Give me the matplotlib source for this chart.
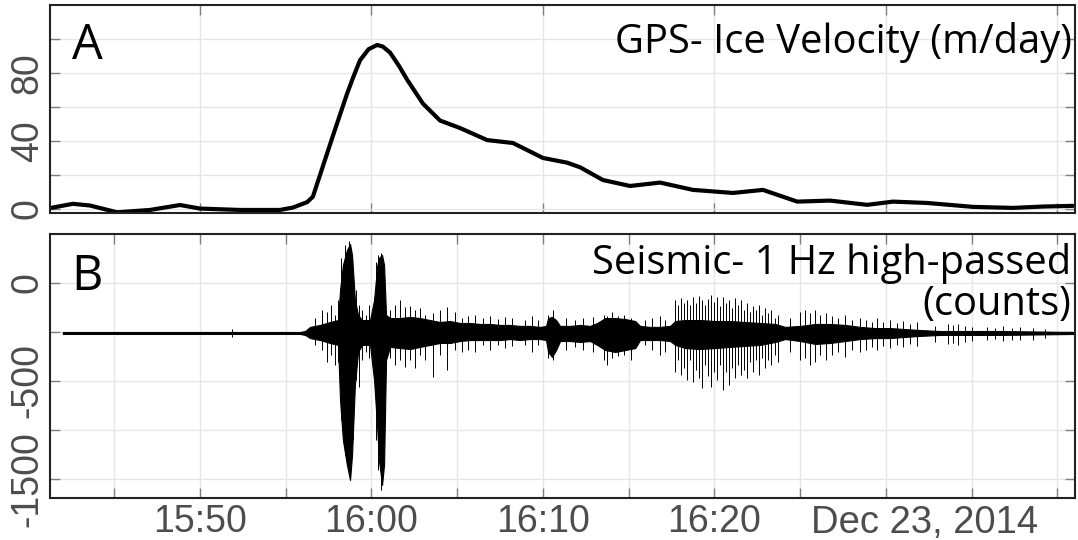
import numpy as np
import matplotlib
matplotlib.use("Agg")
import matplotlib.pyplot as plt

DAY = "2014-12-23"

# GPS ice velocity (m/day)
vel_time = ["15:41:15", "15:42:35", "15:43:35", "15:45:10", "15:47:05", "15:48:50",
            "15:50:00", "15:52:20", "15:54:40", "15:55:25", "15:56:15", "15:56:35",
            "15:57:00", "15:57:45", "15:58:35", "15:58:55", "15:59:20", "15:59:50",
            "16:00:20", "16:00:40", "16:01:05", "16:01:35", "16:02:05", "16:03:00",
            "16:04:00", "16:05:10", "16:06:45", "16:08:15", "16:10:00", "16:11:25",
            "16:12:10", "16:13:30", "16:15:05", "16:16:50", "16:18:45", "16:21:05",
            "16:22:50", "16:24:50", "16:26:45", "16:28:55", "16:30:25", "16:32:25",
            "16:35:05", "16:37:25", "16:39:10", "16:40:55"]
vel_value = [0.5, 3, 2, -2, -0.6, 2.3,
             0.2, -0.6, -0.6, 0.8, 4, 7.2,
             20, 43, 68, 77, 87.5, 94,
             96.5, 95.5, 92, 84.5, 76, 62,
             52, 47.6, 40.5, 38.8, 30, 27.2,
             24.5, 17, 13.5, 15.5, 11.2, 9.4,
             11.2, 4.3, 4.9, 2.4, 4.3, 3.5,
             1.2, 0.6, 1.4, 1.8]

# Seismic trace (1 Hz high-passed, counts); times in seconds after 15:40:00
seis_ref = "15:40:00"
band_sec = [120, 950, 968, 985, 1020, 1055, 1083, 1090, 1100, 1114, 1125, 1132, 1142,
            1153, 1167, 1195, 1209, 1220, 1226, 1237, 1244, 1251, 1265, 1300, 1335,
            1370, 1405, 1440, 1475, 1510, 1545, 1580, 1615, 1650, 1685, 1720, 1755,
            1790, 1811, 1818, 1832, 1846, 1860, 1895, 1930, 1965, 1990, 2018, 2053,
            2088, 2123, 2140, 2175, 2210, 2245, 2263, 2298, 2350, 2403, 2455, 2508,
            2560, 2613, 2648, 2700, 2753, 2805, 2858, 2910, 2963, 3015, 3068, 3120,
            3190, 3260, 3400, 3663]
band_hi = [-250, -250, -245, -224, -214, -199, -189, -36, 92, 168, 199, 143, -87,
           -163, -189, -189, -87, 87, 128, 143, 92, -163, -179, -179, -173,
           -179, -189, -199, -194, -204, -204, -209, -209, -214, -214, -219, -219,
           -224, -219, -179, -173, -189, -219, -219, -214, -219, -204, -179, -179,
           -184, -194, -219, -224, -224, -219, -194, -189, -189, -194, -194, -199,
           -204, -209, -224, -219, -209, -209, -214, -224, -230, -230, -235, -240,
           -245, -245, -245, -250]
band_lo = [-260, -260, -265, -281, -291, -306, -316, -597, -801, -928, -1005, -877, -520,
           -352, -316, -316, -495, -740, -903, -1030, -928, -393, -326, -332, -337,
           -326, -316, -306, -306, -296, -291, -291, -291, -291, -286, -291, -286,
           -286, -291, -352, -377, -342, -296, -296, -301, -296, -316, -342, -352,
           -342, -332, -291, -291, -291, -296, -316, -332, -337, -332, -326, -321,
           -316, -301, -286, -296, -311, -306, -296, -286, -281, -281, -275, -270,
           -265, -265, -265, -260]

spike_sec = [712, 1003, 1027, 1045, 1059, 1073, 1083, 1094, 1108, 1122, 1129, 1136, 1146,
             1157, 1167, 1181, 1192, 1216, 1223, 1234, 1241, 1265, 1283, 1300, 1318,
             1335, 1353, 1370, 1388, 1416, 1440, 1465, 1493, 1517, 1538, 1563, 1591,
             1615, 1643, 1668, 1692, 1738, 1762, 1783, 1818, 1836, 1881, 1913, 1941,
             1976, 2014, 2025, 2042, 2063, 2084, 2109, 2158, 2182, 2210, 2228, 2263,
             2273, 2284, 2294, 2305, 2315, 2326, 2336, 2347, 2357, 2368, 2378, 2389,
             2399, 2410, 2420, 2431, 2441, 2452, 2462, 2473, 2483, 2494, 2504, 2515,
             2525, 2536, 2546, 2557, 2567, 2578, 2588, 2599, 2613, 2623, 2665, 2700,
             2718, 2735, 2753, 2770, 2791, 2812, 2833, 2858, 2882, 2910, 2931, 2952,
             2970, 2991, 3015, 3040, 3061, 3085, 3110, 3173, 3218, 3236, 3253, 3278,
             3302, 3355, 3383, 3411, 3442, 3470, 3516, 3558]
spike_hi = [-235, -179, -138, -148, -112, -163, -87, 128, 194, 214, 168, 41, -36,
            -112, -138, -163, -112, 107, 143, 153, 117, -138, -112, -87, -122,
            -117, -138, -128, -163, -153, -138, -122, -148, -179, -168, -163, -179,
            -168, -184, -173, -179, -189, -168, -189, -163, -138, -179, -189, -179,
            -173, -163, -168, -148, -168, -163, -179, -189, -179, -168, -189, -87,
            -112, -77, -102, -87, -112, -71, -102, -66, -87, -112, -82, -61,
            -97, -71, -117, -71, -102, -87, -128, -77, -112, -87, -138, -102,
            -148, -117, -138, -112, -163, -128, -153, -138, -179, -163, -179, -148,
            -138, -153, -138, -163, -153, -168, -179, -163, -189, -179, -189, -199,
            -179, -199, -189, -204, -194, -209, -199, -219, -209, -214, -209, -219,
            -224, -224, -230, -219, -230, -224, -230, -235]
spike_lo = [-275, -316, -342, -403, -367, -418, -403, -699, -877, -979, -903, -801, -495,
            -530, -393, -352, -383, -801, -954, -1056, -954, -383, -418, -393, -428,
            -393, -434, -367, -393, -479, -367, -444, -342, -352, -342, -352, -316,
            -342, -316, -332, -321, -316, -352, -316, -383, -393, -342, -326, -342,
            -352, -393, -418, -383, -372, -367, -393, -316, -342, -367, -352, -454,
            -393, -469, -434, -495, -393, -505, -444, -485, -536, -418, -474, -530,
            -454, -495, -418, -546, -454, -520, -434, -485, -418, -469, -444, -485,
            -403, -454, -393, -469, -383, -434, -393, -418, -367, -403, -352, -393,
            -383, -418, -403, -367, -393, -367, -352, -377, -342, -352, -342, -326,
            -342, -321, -332, -316, -326, -311, -321, -301, -311, -306, -316, -301,
            -296, -291, -286, -296, -291, -291, -291, -281]

# axis ticks and labels
vel_ticks = [0, 20, 40, 60, 80, 100]
vel_ticklabels = ["0", "", "40", "", "80", ""]
seis_ticks = [0, -250, -500, -750, -1000]
seis_ticklabels = ["0", "", "-500", "", "-1500"]
time_ticks = ["15:45", "15:50", "15:55", "16:00", "16:05", "16:10", "16:15", "16:20",
              "16:25", "16:30", "16:35", "16:40"]
time_ticklabels = ["", "15:50", "", "16:00", "", "16:10", "", "16:20", "", "", "", ""]
major_time_ticks = ["15:50", "16:00", "16:10", "16:20", "16:30", "16:40"]
date_label = "Dec 23, 2014"


def at(hms):
    if hms.count(":") == 1:
        hms = hms + ":00"
    return np.datetime64(DAY + "T" + hms)


def after_ref(secs):
    return at(seis_ref) + np.array(secs, dtype="timedelta64[s]")


vel_t = np.array([at(s) for s in vel_time])
band_t = after_ref(band_sec)
spike_t = after_ref(spike_sec)
x_start, x_end = at("15:41:15"), at("16:41:02")

TICK_FONT = "Liberation Sans"
TEXT_FONT = "Open Sans"
GRID = "#e6e6e6"
TICK_COLOR = "#808080"
LABEL_COLOR = "#4d4d4d"

fig = plt.figure(figsize=(10.78, 5.40), dpi=100)
ax1 = fig.add_axes([50 / 1078, 1 - 213 / 540, 1025 / 1078, 208 / 540])
ax2 = fig.add_axes([50 / 1078, 1 - 498 / 540, 1025 / 1078, 264 / 540])


def style(ax):
    for sp in ax.spines.values():
        sp.set_linewidth(1.5)
        sp.set_color("#222222")
    ax.set_axisbelow(True)
    ax.grid(True, color=GRID, linewidth=1.0)
    ax.tick_params(direction="in", length=7, width=1, color=TICK_COLOR,
                   labelcolor=LABEL_COLOR, labelsize=27,
                   left=True, right=True, top=True, bottom=True)
    ax.set_xlim(x_start, x_end)


# --- panel A: GPS velocity
style(ax1)
ax1.plot(vel_t, vel_value, color="black", linewidth=3.0,
         solid_capstyle="round", solid_joinstyle="round")
ax1.set_ylim(-2.4, 120)
ax1.set_yticks(vel_ticks)
ax1.set_yticklabels(vel_ticklabels, rotation=90, va="center", family=TICK_FONT)
ax1.set_xticks([at(s) for s in major_time_ticks])
ax1.set_xticklabels([])
ax1.tick_params(axis="y", pad=3)
ax1.text(0.021, 0.92, "A", transform=ax1.transAxes, ha="left", va="top",
         fontsize=35, family=TEXT_FONT)
ax1.text(0.997, 0.92, "GPS- Ice Velocity (m/day)", transform=ax1.transAxes,
         ha="right", va="top", fontsize=28.7, family=TEXT_FONT)

# --- panel B: seismic trace
style(ax2)
ax2.fill_between(band_t, band_lo, band_hi, color="black", linewidth=0.8,
                 edgecolor="black")
ax2.vlines(spike_t, spike_lo, spike_hi, color="black", linewidth=0.7)
ax2.set_ylim(-1097, 250)
ax2.set_yticks(seis_ticks)
ax2.set_yticklabels(seis_ticklabels, rotation=90, va="center", family=TICK_FONT)
ax2.set_xticks([at(s) for s in time_ticks])
ax2.set_xticklabels(time_ticklabels, family=TICK_FONT)
ax2.tick_params(axis="y", pad=3)
ax2.tick_params(axis="x", pad=4)
ax2.text(0.853, -0.025, date_label, transform=ax2.transAxes, ha="center", va="top",
         fontsize=27.5, family=TICK_FONT, color=LABEL_COLOR)
ax2.text(0.021, 0.93, "B", transform=ax2.transAxes, ha="left", va="top",
         fontsize=35, family=TEXT_FONT)
ax2.text(0.9965, 0.965, "Seismic- 1 Hz high-passed\n(counts)", transform=ax2.transAxes,
         ha="right", va="top", fontsize=28.7, family=TEXT_FONT, linespacing=1.0,
         multialignment="right")

fig.savefig("out.png", dpi=100)
